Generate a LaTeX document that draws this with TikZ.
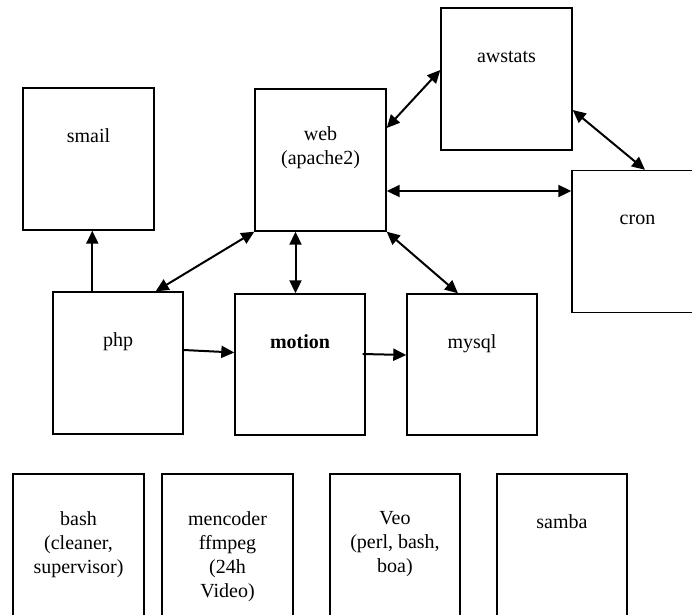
\documentclass[tikz,border=0pt]{standalone}
\usepackage{fontspec}
\setmainfont{Liberation Serif}
\usetikzlibrary{arrows.meta}

\tikzset{
  box/.style={draw, line width=1.4pt, minimum width=131pt, minimum height=142pt, inner sep=0pt},
  lbl/.style={anchor=north, yshift=-38pt, inner sep=0pt, align=center,
    execute at begin node=\strut, font=\fontsize{20}{24}\selectfont},
  link/.style={line width=2pt}
}

\begin{document}
\begin{tikzpicture}[x=1pt, y=-1pt, >={Triangle[length=13pt,width=12pt]}]
				\clip (0,0) rectangle (692,614);
				
				% services
				\node[box, label={[lbl]north:smail}] (smail) at (88.5,159) {};
				\node[box, label={[lbl]north:web\\(apache2)}] (web) at (320.5,160) {};
				\node[box, label={[lbl]north:awstats}] (awstats) at (506.5,79) {};
				\node[box, label={[lbl]north:cron}] (cron) at (637.5,241.5) {};
				
				\node[box, minimum width=130pt, label={[lbl]north:php}] (php) at (118,363) {};
				\node[box, minimum width=130pt, minimum height=141pt, label={[lbl, font=\fontsize{20}{24}\selectfont\bfseries]north:motion}] (motion) at (300,364.5) {};
				\node[box, minimum width=130pt, minimum height=141pt, label={[lbl]north:mysql}] (mysql) at (472,364.5) {};
				
				% tools
				\node[box, label={[lbl]north:bash\\(cleaner,\\supervisor)}] (bash) at (78.5,545) {};
				\node[box, label={[lbl]north:mencoder\\ffmpeg\\(24h\\Video)}] (mencoder) at (227.5,545) {};
				\node[box, minimum width=130pt, label={[lbl]north:Veo\\(perl, bash,\\boa)}] (veo) at (395,545) {};
				\node[box, minimum width=130pt, label={[lbl]north:samba}] (samba) at (562,545) {};
				
				% links
				\draw[link, ->] ([xshift=40pt]php.north west) -- ([xshift=40pt]php.north west |- smail.south);
				\draw[link, <->] ([xshift=-28pt]php.north east) -- (web.south west);
				\draw[link, <->] ([xshift=-25pt]web.south) -- ([xshift=-25pt]web.south |- motion.north);
				\draw[link, <->] (web.south east) -- ([xshift=-14pt]mysql.north);
				\draw[link, <->] ([yshift=-31pt]web.east) -- ([yshift=-31pt]web.east -| cron.west);
				\draw[link, <->] ([yshift=32pt]web.east) -- ([yshift=9pt]awstats.west);
				\draw[link, <->] ([yshift=-31pt]awstats.east) -- ([xshift=7.5pt]cron.north);
				\draw[link, ->] ([yshift=13pt]php.east) -- ([yshift=12pt]motion.west);
				\draw[link, ->] ([xshift=-3pt, yshift=10.5pt]motion.east) -- ([yshift=9.5pt]mysql.west);
			\end{tikzpicture}
\end{document}
